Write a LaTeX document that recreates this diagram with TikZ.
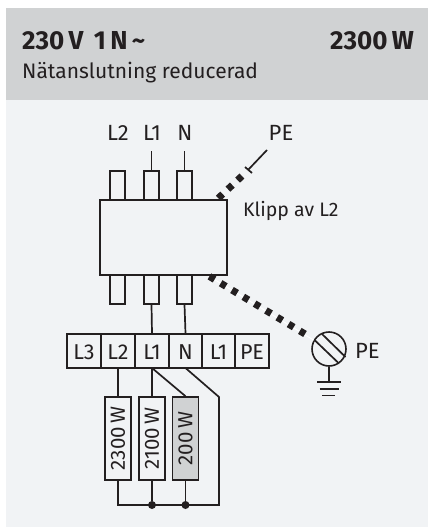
\documentclass[tikz,border=0pt]{standalone}
\usepackage{fontspec}
\setmainfont{Fira Sans}
\definecolor{ink}{HTML}{231F20}
\definecolor{hdr}{HTML}{D0D2D3}
\definecolor{pane}{HTML}{F1F3F5}
\tikzset{
  wire/.style={draw=ink,line width=1.7pt},
  part/.style={draw=ink,line width=1.6pt,fill=pane},
  label/.style={inner sep=0pt,text=ink,font=\fontsize{22}{22}\selectfont,anchor=base},
  termtext/.style={inner sep=0pt,text=ink,font=\fontsize{21.5}{22}\selectfont,anchor=base},
  loadtext/.style={inner sep=0pt,text=ink,font=\fontsize{20.5}{21}\selectfont,rotate=90},
  thick dash/.style={draw=ink,line width=7pt,dash pattern=on 6pt off 7.2pt},
  jdot/.style={circle,fill=ink,inner sep=0pt,minimum size=8pt},
}
\begin{document}
\begin{tikzpicture}[x=1pt,y=-1pt]
\useasboundingbox (0,0) rectangle (428,527);
\fill[white] (0,0) rectangle (428,527);
\fill[pane] (6,100) rectangle (428,527);
\fill[hdr] (6,8) rectangle (428,100);
\node[inner sep=0pt,anchor=base west,text=ink,font=\bfseries\fontsize{26}{26}\selectfont] (t1) at (22,49) {230\,V\ \,1\,N\,\char`\~};
\node[inner sep=0pt,anchor=base east,text=ink,font=\bfseries\fontsize{26}{26}\selectfont] (t2) at (414,49) {2300\,W};
\node[inner sep=0pt,anchor=base west,text=ink,font=\fontsize{21}{21}\selectfont] (t3) at (22,78) {Nätanslutning reducerad};

% top labels
\node[label] (tL2) at (118,140) {L2};
\node[label] (tL1) at (152,140) {L1};
\node[label] (tN) at (185,140) {N};
\node[label] (tPE) at (281,140) {PE};
\node[inner sep=0pt,anchor=base west,text=ink,font=\fontsize{19.5}{20}\selectfont] (klipp) at (243,216) {Klipp av L2};

% contactor pins
\foreach \n/\a/\b in {a/110/125,b/144/159,c/177/192}{
  \node[part,minimum width=15pt,minimum height=29pt,inner sep=0pt] (top\n) at ({(\a+\b)/2},185.5) {};
  \node[part,minimum width=15pt,minimum height=29pt,inner sep=0pt] (bot\n) at ({(\a+\b)/2},289.5) {};
}
\node[draw=ink,line width=1.9pt,fill=pane,minimum width=127pt,minimum height=75pt,inner sep=0pt] (box) at (163.5,237.5) {};

\coordinate (inL1) at (151.5,151);
\coordinate (inN) at (184.5,151);
\draw[wire] (inL1) -- (topb.north);
\draw[wire] (inN) -- (topc.north);

% terminals
\foreach \n/\a/\b/\t in {L3/67/101/L3,L2/101/135/L2,L1/135/169/L1,N/169/202/N,Lb/202/235/L1,PE/235/269/PE}{
  \node[part,minimum width={\b-\a},minimum height=34pt,inner sep=0pt] (T\n) at ({(\a+\b)/2},351) {};
  \node[termtext] at ({(\a+\b)/2},359) {\t};
}
\draw[wire] (botb.south) -- (TL1.north);
\draw[wire] (botc.south) -- (TN.north);

% loads
\foreach \n/\x/\t/\c in {A/118/2300\,W/pane,B/152/2100\,W/pane,C/185.5/200\,W/hdr}{
  \node[part,fill=\c,minimum width=26pt,minimum height=83pt,inner sep=0pt] (R\n) at (\x,438.5) {};
  \node[loadtext] at (\x,438.5) {\t};
}
\coordinate (corner) at (219,397);
\coordinate (bl) at (118,505);
\coordinate (br) at (219,505);
\node[jdot] (d1) at (152,505) {};
\node[jdot] (d2) at (185.5,505) {};
\draw[wire] (118,368) -- (RA.north);
\draw[wire] (152,368) -- (RB.north);
\draw[wire] (152,368) -- (RC.north);
\draw[wire] (185.5,368) -- (corner) -- (br) -- (bl) -- (RA.south);
\draw[wire] (RB.south) -- (d1);
\draw[wire] (RC.south) -- (d2);

% PE top
\coordinate (pa) at (218.3,198.2);
\coordinate (pb) at (242,176);
\coordinate (pc) at (267,150);
\draw[thick dash] (pa) -- (pb);
\draw[wire] (pc) -- (248,170);
\draw[wire] (245,167) -- (252,173);

% earth symbol
\node[circle,draw=ink,line width=1.6pt,minimum size=34pt,inner sep=0pt] (earth) at (329,349) {};
\draw[wire] (314.5,340) -- (338.5,363);
\draw[wire] (322,334) -- (345.5,357);
\coordinate (g1) at (329,382);
\draw[wire] (earth.south) -- (g1);
\draw[wire] (317,382) -- (341,382);
\draw[wire] (319.5,389) -- (338.5,389);
\draw[wire] (322,395.5) -- (335,395.5);
\node[label,anchor=base west] (ePE) at (355,358) {PE};

% PE lower
\coordinate (qa) at (209.4,276.4);
\coordinate (qb) at (306,334.6);
\draw[draw=white,line width=1pt] (qa) -- (earth.150);
\draw[thick dash] (qa) -- (qb);
\end{tikzpicture}
\end{document}
